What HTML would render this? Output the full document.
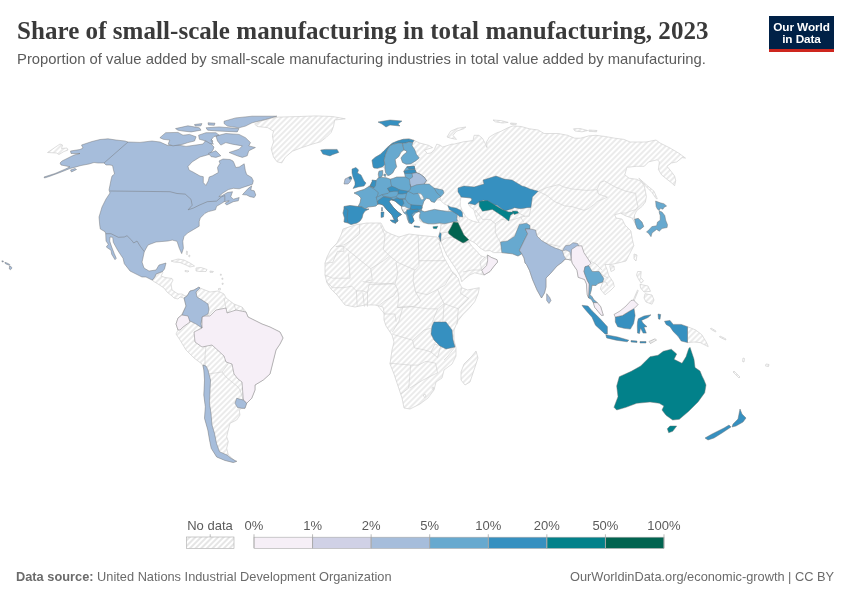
<!DOCTYPE html>
<html><head><meta charset="utf-8"><style>
html,body{margin:0;padding:0;background:#fff;}
body{width:850px;height:600px;position:relative;overflow:hidden;font-family:"Liberation Sans",sans-serif;}
h1,.sub,.foot,.logo,.leg{will-change:transform;}
.map,.leg{position:absolute;left:0;top:0;}
h1{position:absolute;left:16.5px;top:17px;margin:0;font-family:"Liberation Serif",serif;font-weight:bold;font-size:25px;color:#3a3a3a;white-space:nowrap;letter-spacing:0.05px;}
.sub{position:absolute;left:16.5px;top:51px;margin:0;font-size:14.8px;letter-spacing:0.02px;color:#5b5b5b;white-space:nowrap;}
.logo{position:absolute;left:769px;top:16px;width:65px;height:36px;background:#002147;}
.logo .bar{position:absolute;left:0;bottom:0;width:65px;height:3px;background:#ce261e;}
.logo .t{position:absolute;left:0;top:5px;width:65px;text-align:center;color:#fff;font-weight:bold;font-size:11.8px;line-height:12px;letter-spacing:-0.1px;}
.foot{position:absolute;top:569px;font-size:12.8px;color:#6b6b6b;white-space:nowrap;}
</style></head><body>
<svg class="map" width="850" height="600" viewBox="0 0 850 600">
<defs><pattern id="nd" patternUnits="userSpaceOnUse" width="4" height="4" patternTransform="rotate(-45)"><rect width="4" height="4" fill="#fff"/><path d="M0,2 H4" stroke="#e1e1e1" stroke-width="1.3"/></pattern></defs>
<g fill="url(#nd)" stroke="#cdcdcd" stroke-width="0.65" stroke-linejoin="round"><path d="M47.5,152.5 60,144 62.5,145 61.5,148.5 67,148 68,150 64,151.5 59,154.5 56.5,153Z"/><path d="M254.7,124.1 260.6,121.2 271.2,118.2 278.2,117.1 299.4,116.5 315.9,115.9 332.4,116.5 345.3,118.8 334.7,120 333.5,126.5 331.2,132.4 326.5,137.1 320.6,141.8 312.4,144.1 301.8,147.6 292.4,151.2 285.3,157.1 281.8,162.9 277.1,161.8 273.5,157.1 271.2,148.8 273.5,141.8 272.4,135.9 273.5,131.2 267.6,127.6 257.1,126.5Z"/><path d="M357,223 351,224.5 348,223 344,222 344.5,218 343,213 344,209 344,206.5 350,205.5 358,206.5 360,203 361,198 358,195 354,193 359,191 364,189.5 368,187 370,186 372,182 373,181 376.2,180.6 378.3,177.8 378.3,174.1 379,171.2 382.7,170.5 382.7,174.9 382,177.5 386.1,177.8 390.3,179.2 392.9,178.5 396.7,177.1 403.2,177 405.4,177 404.7,173.4 403.9,171.2 406.9,166.8 414.2,166 416,164.5 410.5,163.9 406.1,164.2 402.5,162.4 401,158 403.2,155.1 406.9,152.1 406.1,150.7 403.9,149.9 401,152.1 398.8,156.5 395.1,159.5 395.9,163.9 396.6,166.8 394.4,169.7 392.9,172.7 390,174.9 387.8,175.6 385.6,172.7 384.9,168.3 382.7,166.8 377.5,168.3 373.9,167.9 373.1,166.8 372,160.2 375.3,157.3 380.5,154.3 384.1,150.7 387.8,147 392.2,143.3 397.3,141.1 403.2,139.3 409,138.9 414.2,140.4 419.7,143 428.5,145.3 432.6,147.6 424.4,150 427.4,153.5 431,153 434.4,149.4 436.8,144.1 440.3,145.3 442.6,147 446.2,145.9 452,144.1 454.1,144.1 463.5,141.8 473,140.6 474.1,135.3 478.8,135.3 482.4,138.2 485,143 487,147.6 486.5,142 489.4,137 495.3,133.5 501.2,131.2 508.2,127.6 513,125.9 521.2,126.5 529.4,128.8 538.2,130 544.1,133.5 558.2,133.5 567.6,135.3 574.7,138.2 580.6,138.2 588.8,135.9 595.9,135.3 605.3,136.5 614.7,138.2 624.1,139.4 630,142 646,142 656,140 660,143 670,148 679,153.3 685.5,158.1 682.2,157.6 676.8,161.9 671.4,163 667,166.3 671.4,171.7 674.6,176 675.7,180.4 674.6,185.8 672.5,183.6 667,179.3 661.6,174.9 658.4,169.5 659.4,161.9 657.3,159.8 652.9,160.8 648.6,161.9 644.3,166.3 636.7,166.3 626.9,167.3 624.8,174.9 629.1,178.2 636.7,179.3 641,181.4 644.3,185.8 645.4,191.2 646.4,196.6 645.4,202 642.1,206.4 636.7,210.7 634.5,215 634.6,219.3 638.2,218.4 641.9,222 643.7,226.6 640,229.4 637.3,228.5 635.5,223.9 632,218 626,216 620.6,213.2 614.7,214.7 616,218 622.1,219.1 625,225 630.9,230.9 632.4,239.7 633.8,245.6 629.4,254.4 626,261 616.7,263.3 610.8,264.5 605,264.5 607.3,270.3 608.5,275 613.2,282 614.3,286.7 610.8,290.2 605,294.8 600.3,289 602.7,282 598,283.5 596,285.5 592,285.3 591.3,290 590,294.7 592,296.7 594,300 596.7,302 597.3,302.7 600.7,306.7 602.7,313.3 603.3,315.3 601.3,315.3 598,311.3 594.7,307.3 593.3,302.7 591.3,299.3 588.7,298 587.3,295 586.7,288 586.5,284 584.5,279.5 581.7,278.5 578.2,277.3 577,270.3 572.3,263.3 570.7,260 566,259 564,260 562.5,262 557,266 550.5,273.5 546,278 546,287 544.5,293 541.5,298 537,290 532.5,279.5 529.5,270.5 526.5,264.5 525,263 524,258 521.8,253.8 518,256 512.4,253.8 501.8,252.6 493.5,252.6 490,250.5 485,251 480,248 475,243 470,240.3 468.8,242 472.4,246.8 477,251.5 480.6,255.6 485.3,257.4 487.6,255 491.2,257.4 497,259.7 497.6,262 493.5,266.8 490,271.5 484,275 474.7,272.8 470,274.8 464,279.5 461.8,281.8 460.1,276 456,269 451.3,262 446.7,255 443.5,248 440.4,240.2 439,240 438.5,237.5 439.5,233 440.5,229 441,225 440.6,223.2 436,224 432,224 424,223 420,221 419,216 420.5,212 418,211.5 415.6,213 413.9,214.7 412.3,217.2 413.9,220.5 411.5,223.8 409,223 407.4,218.8 406.5,214.7 404,213 402,209 401.6,206.5 398,203.5 395,201 391,199.6 389,201.5 393,207 398,212 401.5,214.5 399,216 397,218 398,221 395,223 394,219 392,215 387,210 383,205 380,204 378,204 376,206 373,206.5 368,207 365,209 369,209 365,211 363,214 362,218 360,221Z"/><path d="M343,229 355,225 367,223 381,223 385,231 391,234 399,237 409,234 417,235 427,236 437,237 439,240 440.6,242 439,243 443.2,256.2 447.8,264.3 452.5,272.5 458.3,278.3 459.5,283 461.8,287.7 467.7,290 473.5,288.8 479.3,287.7 478.2,293.5 474.7,301.7 468.8,308.7 463,314.5 458.3,320.3 456,325 454,330 454,340 456,348 456,356 452,364 444,370 442,378 436,382 434,390 428,398 420,404 410,409 404,408 402,398 398,386 394,374 390,364 392,350 394,342 392,335 386,326 384,320 384,312 383,307 375,305 365,305 355,307 345,305 337,295 331,289 327,283 325,275 325,263 327,257 331,249 337,243 341,235Z"/><path d="M476,351 478,358 474,370 470,382 465,385 461,380 461,372 464,364 468,360 472,356Z"/><path d="M187,296 190,291 194,290 199,287 200,288 205,290 210,292 218,291 224,294 226,298 234,304 242,307 246,312 248,317 254,320 262,324 270,327 280,332 283,338 280,344 276,350 274,358 270,374 263.3,380 255,385 255,390 251.7,398.3 246.7,403.3 245,408.3 241.7,408.3 239.2,410 240,415 236.7,420 230,423.3 228.3,430 226.7,436.7 228.3,441.7 226.7,448.3 228.3,455 235,460.8 236.7,461.3 233.3,462.5 225,460 216.7,456.7 211.7,448.3 210,440 208.3,430 205,418.3 205.8,406.7 204.2,395 205,380 204.2,370 202,364 194,358 186,350 180,340 176,334 178,330 176,324 178,318 182,314 186,306 184,298Z"/><path d="M163,272 161,276 165,277.5 172,278.5 173,280 171,284 172,290 178,294 182,294 185,296 187,296 184,298 180,297 178,299 174,298 172,296 167,292 164,288 158,284 153,281 152,280 153,279.5 155,276.5 156,274 162.5,271.5Z"/><path d="M171,261 178,259 184,260 190,263 194.5,266 190,267 186,265 180,262.5 174,262Z"/><path d="M196,268 201,267.5 207,269.5 206,271.5 200,271.5 196,271Z"/><path d="M185,270.5 189,271 188,272 185,271.5Z"/><path d="M210,271 213.5,271.5 213,272.3 210,272.3Z"/><path d="M638.8,178.2 647.5,185.8 654,191.2 657.3,198.8 656,198.5 652,192.5 646.5,187 640,179.5Z"/><path d="M634,254 637,255 636,261 634,259Z"/><path d="M609.7,265.7 614,266 614.3,270 611,271.5Z"/><path d="M637.7,271.5 641.2,271.5 640.6,277.3 643.5,280.8 641.2,283.2 638.8,279.7 636.5,275Z"/><path d="M640,284.3 648,286 650.5,291.3 644,292 640.6,288Z"/><path d="M645,293.7 652,295 654,300 652,304.2 646,302 644,298Z"/><path d="M631,305.5 637.5,290 638.3,290.5 632,306Z"/><path d="M687.5,326.7 695.5,329.9 701.8,334.7 706.6,342.6 708.2,346.6 700.2,342.6 694,342 687.5,342.6Z"/><path d="M734,371 740,377 739,378 733,372Z"/><path d="M743,358 744.5,358.5 744,362 742.5,361.5Z"/><path d="M766,364 769,364.5 768.5,366.5 765.5,366Z"/><path d="M711,328 716,331 715.5,332 710.5,329Z"/><path d="M720,336 726,339 725.5,340 719.5,337Z"/><path d="M447,137 450.6,131.2 457.6,128.2 465.9,127 463.5,128.8 456.5,131.2 452.9,135.3 456.5,139.4 450.6,138.2Z"/><path d="M493,120 501.2,120.6 508.2,122.4 502.4,123 495.3,121.8Z"/><path d="M510.6,123 516.5,123.5 516,124.7 510.6,124.2Z"/><path d="M573.5,128.8 580,128.5 587.6,130.5 582,131.8 575,131Z"/><path d="M588.8,130 597,130.5 596.5,131.8 589,131.3Z"/><path d="M220.5,274 221.5,274.3 221.2,275.5 220.3,275.2Z"/><path d="M222,278 223,278.3 222.8,279.5 221.8,279.2Z"/><path d="M222.3,283 223.3,283.3 223,284.5 222,284.2Z"/><path d="M218.5,288.5 220.5,288.3 220.3,290 218.5,290Z"/><path d="M186.5,251 187.5,251.5 187.2,255 186.3,254Z"/><path d="M189,255 190,255.5 189.5,257 188.7,256.5Z"/></g>
<g fill="none" stroke="#cfcfcf" stroke-width="0.6"><path d="M475,209.8 482.5,219.4 490,219.4 495.3,223.6 501.6,219.4 509,220.4"/><path d="M495.3,223.6 495.3,232.1 497.4,237.4 499.5,240.5 500.5,243.7 501.6,248 503.7,252.2"/><path d="M509,220.4 514.3,219.4 520.7,217.2 524.9,216.2 529.2,216.2 530.9,207.4"/><path d="M518.6,213 524.9,216.2"/><path d="M520.7,217.2 523.9,222.5"/><path d="M457.6,213.9 460,218 458,222.6"/><path d="M441,225 447.6,222.5"/><path d="M440.6,233 448.2,232"/><path d="M441,241 446,238 453.5,237.4"/><path d="M463,243 468.8,242"/><path d="M463,272 472,270 482,270"/><path d="M481.8,270.3 480,262 485,257"/><path d="M538.2,191.2 547.1,187.5 558.8,184.6 563.2,186.8 572.1,189 586.8,190.4 597.1,189.7 598.5,194.1 607.4,197.1 604.4,198.5 597.1,201.5 594.1,204.4 588.2,208.8 583.8,210.3 572.1,206.6 564.7,205.9 554.4,201.5 547.1,195.6 538.2,191.2"/><path d="M597.1,189.7 600,182.4 604.4,180.9 615,186.9 625.8,191.2 635.6,193.4 636.7,201 638,206.4 636,209.5"/><path d="M620.6,213.2 626,213 631,211 636,209.5"/><path d="M541.2,241.2 548.5,244 560.3,246.5"/><path d="M591,261.5 596,264 602,270"/><path d="M598.5,272 604,276 608,278"/><path d="M601.5,281.7 606,282 608,286"/><path d="M359.6,224.3 359.6,233.8 351.7,240.2 343.8,244.9 335.8,246.5"/><path d="M335.8,246.5 343.8,246.5 343.8,251.3 337.4,251.3 332.7,262.4 324.8,263.2"/><path d="M345.4,248.1 370.7,268.7 383.4,260.8 389.7,256"/><path d="M348.5,254.4 350.1,278.2 332.7,278.2 324.8,275"/><path d="M380.2,224.3 385,235.4 383.4,249.7 389.7,256 397.7,262.4"/><path d="M370.7,268.7 372.3,279.8 366,281.4"/><path d="M326.3,281.4 332.7,287.7 343.8,287.7 351.7,286.1 356.4,290.9 362.8,290.9 367.5,292.5 369.1,284.6 383.4,284.6 394.5,283"/><path d="M356.4,290.9 357.2,306.7"/><path d="M362.8,292.5 364.4,306.7"/><path d="M367.5,292.5 367.5,306.7"/><path d="M418.2,235.4 419,265.5"/><path d="M419,260.7 445.1,260.7"/><path d="M397.7,262.4 415,270 419,265.5"/><path d="M453,271.8 457,276"/><path d="M455,347 448,356 444,360"/><path d="M224,298 226,308"/><path d="M234,304 236,311"/><path d="M242,307 244,312"/><path d="M393.4,334.5 412.6,340.2 414.5,347.9 424,349.8 431,352 437.5,357.5"/><path d="M389.6,363.2 410.7,365.1 418.3,365.1 426,361.3 435.6,363.2 437.5,372.8 429.8,376.6 422.1,380.5 409.7,388.1"/><path d="M410.7,365.1 409.7,376.6 408.7,388.1 401,393.9"/><path d="M437.5,357.5 441.3,344"/><path d="M431,352 435,344 440,346"/><path d="M423.3,395 425,394 426,396.5 424.5,397.5 423.3,395"/><path d="M432,387.5 433.5,387 433.8,389 432.3,389.3 432,387.5"/><path d="M206,346 205,356 205,366 208,374"/><path d="M208,374 215,373 222,372 228,364"/><path d="M222,372 226,377 232,382 238,387 240,390 243.3,400"/><path d="M362.6,281.6 372.9,282.9 384,283.5 395,284.2 397.5,289.4 393.6,295.9 384.6,301 378.1,306.2"/><path d="M397.5,289.4 398.8,297.2 397.5,307.5 405.3,307.5 414.3,306.2 420.8,301 415.6,292 413,280.3 414.3,270"/><path d="M397.5,307.5 406.6,306.2 418.2,307.5 427.3,308.8 437.6,308.8"/><path d="M415.6,292 420.8,293.3 427.3,294.6 437.6,289.4 440.2,295.9 444.1,303.6 437.6,308.8"/><path d="M437.6,308.8 432.4,321.7"/><path d="M444.1,303.6 442.8,321.7"/><path d="M444.1,303.6 458.3,308.8 457,324.3"/><path d="M437.6,289.4 445,285 453,271.8"/><path d="M461.5,288 460.5,293.3 468.7,298.5 458.3,308.8"/><path d="M384.6,314 394.9,314 396.2,321.7"/><path d="M402.7,307.5 398.8,321.7 392.3,332.1"/><path d="M378.1,306.2 384.6,314"/><path d="M396,262.3 397.7,273.4 395,284.2"/><path d="M431.2,328.2 424,330 412.6,340.2"/></g>
<g fill="#fff" stroke="#cfcfcf" stroke-width="0.6"><path d="M422.2,206.5 423.8,201.5 426.3,198.2 429.6,199 431.2,201.5 434.5,202.4 437,199.5 440,200 444.4,204 447.7,205.6 449.4,208.1 447.7,211.4 441.1,210.6 434.5,209.4 429.6,210.6 424.7,211.8 421.4,210.6 421.4,207.7Z"/><path d="M435,197 438,196.6 441,199 438,200 436,199.5Z"/><path d="M461,197 471,198 472,200 468,203.5 470,206.7 474,209.8 475,214 477,219.4 479.4,222.5 474,221.5 468.8,219.4 465.6,216.2 462.4,210.9 460.3,205.6 460.3,201.4Z"/></g>
<g stroke="#6f6f6f" stroke-width="0.45" stroke-linejoin="round"><path fill="#a6bddb" d="M44,177 55,173.5 65,169.2 70,166.8 61,165 60,163 62,161 68,158 74,155 80,153.5 71,153.5 70.5,151 80,149.5 83,148 81.5,145 92,141.5 100,139.5 108,138.8 116,140 125,141 128,142 140,142.4 152,141 160,142 168,145.6 178,145 186,146.4 196,145 203,144 206,140 210,138 213,141 211,144 214,147 213,150 209,154.5 200,157 192,162 188,166.5 189,170 193,172 200,176 203.3,176.7 203.3,182.5 205.8,185.4 208.3,180.8 209.2,177 212.5,175.8 218.3,172.5 217.5,167.5 220,163.3 219,161 223,159 230,159.5 233,161 234.2,163.3 235.8,167.5 239.2,167 244.2,163.8 245.4,170.8 246.7,174.6 251.7,177.5 253.3,180.8 252.5,184.2 249.2,185.4 245,186.7 239.2,188.8 233.3,188.3 228.3,189.6 222.5,193.3 218.8,196.7 221.7,195.8 227.5,192.5 232.5,191.7 230.8,196.7 233.3,199.2 239.2,197.5 238.3,200.8 233.3,201.7 226.7,205 225,203.3 229.2,200.8 224.2,201.7 221.7,203.3 216.6,206.3 215.5,209.8 208.5,211.6 205,213.3 200.3,218 199.2,221.5 199.2,226.2 193.3,229.7 187.5,233.1 184,236.6 182.8,241.3 183.4,248.3 181.7,253.6 179.3,248.3 177,241.3 172.3,240.1 168,241 156,242 148,245 144.3,251.7 142.3,261 142,262 144,268 149,271 156,270 159,265 166,263 164.5,269 162.5,271.5 156,274 155,276.5 153,279.5 152,280 146,277 142,277 130,271 124.3,263.7 123,258.3 120.3,254.3 117.7,250.3 113.3,242.3 112.7,237.3 110,237 109.7,241 111.7,247 114.3,253.7 116.3,258.3 115,259.7 111.7,254.3 111,250.3 106.3,247 108.3,244.3 106,241 105.7,233.7 105,231.7 100.3,229 99.7,225 99,217 102,207 106,199 110,193 109,190 110,185 111,180 112,176 114.5,174 113.5,170 112.5,165.5 110,165 106,165 104,163 98,163 94,162.5 89,164 81,165.5 75,167.2 70,168.5 60,172.5 50,176.2 44.5,178Z"/><path fill="#a6bddb" d="M1.9,260.8 3.4,261 3.2,262 2,261.9Z"/><path fill="#a6bddb" d="M4.9,262.3 7,263 9.8,264.5 9.5,265.3 6.5,264.2 5,263.3Z"/><path fill="#a6bddb" d="M9.5,266 11,266.5 12,268 10.5,269.8 9.3,269Z"/><path fill="#a6bddb" d="M70.5,170 75,168.5 76.5,169.5 71.5,172Z"/><path fill="#a6bddb" d="M242.5,194.6 248.3,188.3 251.7,185.8 250.8,190 254.2,190.8 255.8,195 254.2,197.5 250,196.7 246.7,195Z"/><path fill="#a6bddb" d="M215.9,136 225.8,133.5 239,134.4 245.5,137.7 250.5,142.6 248.8,145.9 255.4,147.5 248.8,150.8 247.2,155.8 242.3,157.4 237.3,155.8 229.1,152.5 239,149.2 242.3,145.9 232.4,144.2 225.8,142.6 220.8,145.1 217.5,141Z"/><path fill="#a6bddb" d="M159.9,137.7 165.7,132.7 178,132.4 183,135.2 189.5,134.4 196.1,136.8 194.5,141 187.9,142.6 183,144.2 173,145.9 168.1,144.2 169.8,140.1 163.2,139.3Z"/><path fill="#a6bddb" d="M198.6,135.2 206,132.7 215.9,132.7 219.2,135.2 214,136.5 211,140.1 213.4,144.2 210,143.5 206,141 199.4,139.3Z"/><path fill="#a6bddb" d="M175.5,128.6 187.9,125.8 199.4,127.8 201,130.2 191.2,131.9 183,131.1 178,130.2Z"/><path fill="#a6bddb" d="M194.5,124.5 201.9,123.6 201,125.8 195.3,126.1Z"/><path fill="#a6bddb" d="M208,122.8 215,123.2 214.3,125.3 208.5,125Z"/><path fill="#a6bddb" d="M224.1,121.2 235.7,117.9 252.1,116.2 276.9,116.2 265.3,119.5 252.1,122.8 245.5,126.1 239,127.8 227.4,126.1 224.1,123.6Z"/><path fill="#a6bddb" d="M206,127.8 219.2,126.9 239,128.6 237.3,131.9 219.2,131.1 207.7,130.2Z"/><path fill="#a6bddb" d="M208.5,153.3 215.9,150.8 220.8,155.8 215.9,157.4 211,156.6Z"/><path fill="#3690c0" d="M320.6,150 325.3,149.4 337.1,149.4 338.8,152.4 332.4,154.7 330,155.9 322.9,154.1Z"/><path fill="#3690c0" d="M378,122 390,120 402,121 398,124 400,126 390,125 386,127 382,124Z"/><path fill="#3690c0" d="M352,169 356,167.5 358.5,170 357.5,173 361,175 364,181 366,183 364,186 358,187 353,188.5 355,185 355,182 353,177 352,173Z"/><path fill="#a6bddb" d="M344,184 345,179 349,177 351,176.5 351.5,179 350,182 348,184Z"/><path fill="#3690c0" d="M348.8,177.3 351,176.5 351.8,178.8 349.5,179.3Z"/><path fill="#3690c0" d="M373.1,166.8 372,160.2 375.3,157.3 380.5,154.3 384.1,150.7 387.8,147 392.2,143.3 397.3,141.1 403.2,139.3 409,138.9 414.2,140.4 412.7,142.6 409,141.9 406.1,143 402.5,143.3 398.8,143 393.7,144.1 390,145.5 387.8,149.2 385.6,154.3 384.1,160.2 384.9,164.6 382.7,166.8 377.5,168.3 373.9,167.9Z"/><path fill="#67a9cf" d="M402.5,143.3 403.9,149.9 401,152.1 398.8,156.5 395.1,159.5 395.9,163.9 396.6,166.8 394.4,169.7 392.9,172.7 390,174.9 387.8,175.6 385.6,172.7 384.9,168.3 384.9,164.6 384.1,160.2 385.6,154.3 387.8,149.2 390,145.5 393.7,144.1 398.8,143Z"/><path fill="#67a9cf" d="M402.5,143.3 406.1,143 409,141.9 412.7,142.6 412,145.5 414.9,150 416.4,154.3 419.3,158 415.7,160.9 410.5,163.9 406.1,164.2 402.5,162.4 401,158 403.2,155.1 406.9,152.1 406.1,150.7 403.9,149.9Z"/><path fill="#67a9cf" d="M354,193 359,191 364,189.5 368,187 370,186 372,182 373,181 376.2,180.6 378.3,177.8 379,177.8 381.2,177 382,177.5 386.1,177.8 390.3,179.2 392.9,178.5 396.7,177.1 403.2,177 405.4,177 404.7,173.4 403.9,171.2 406.9,166.8 414.2,166 414.9,169 416.4,172.7 420,174 424,177 426.5,180.5 424,184 429,184 434,188 443,190 444,193 441,196.6 437,199 434.5,202.4 431.2,201.5 429.6,199 426.3,198.2 423.8,201.5 422.2,206.5 421.4,210.6 419,211.5 415.6,213 413.9,214.7 412.3,217.2 413.9,220.5 411.5,223.8 409,223 407.4,218.8 406.5,214.7 404,213 402,209 401.6,206.5 398,203.5 395,201 391,199.6 389,201.5 393,207 398,212 401.5,214.5 399,216 397,218 398,221 395,223 394,219 392,215 387,210 383,205 380,204 378,204 376,206 373,206.5 368,207 365,209 362,207 358,206.5 360,203 361,198 358,195Z"/><path fill="#67a9cf" d="M379,171.2 382.7,170.5 382.7,174.9 381.2,177 379,177.8 378.3,174.1Z"/><path fill="#67a9cf" d="M384,174 386,174.5 385.5,176.5 383.8,176Z"/><path fill="#3690c0" d="M372,179.9 376.2,180.6 375.5,185.5 374.1,187.6 371,186.5 370,186 372,182Z"/><path fill="#3690c0" d="M387.5,188.3 391.8,186.2 395.3,187.6 399.5,189.8 398.1,191.2 393.9,191.2 389.6,191.9Z"/><path fill="#3690c0" d="M398.1,191.2 399.5,189.8 408,191.2 406.6,193.3 402.3,194 398.1,194Z"/><path fill="#3690c0" d="M391,199.6 393.2,199.6 396.7,198.2 399.5,198.9 402.4,199 404,203.2 401.6,206.5 398,203.5 395,201Z"/><path fill="#3690c0" d="M377.6,201 383.3,196.8 391,198.2 393.2,199.6 391,199.6 389,201.5 393,207 398,212 401.5,214.5 399,216 397,218 398,221 395,223 394,219 392,215 387,210 383,205 380,204 378,204Z"/><path fill="#3690c0" d="M406.9,166.8 414.2,166 414.9,169 409,169Z"/><path fill="#3690c0" d="M403.9,171.2 409,169.7 414.9,169.7 416.4,172.7 412,173.4 404.7,173.4Z"/><path fill="#3690c0" d="M410.8,204.8 421.5,205.6 422.3,208.1 419.8,209.7 413.2,209.7 410,208.9 410.8,206.4Z"/><path fill="#3690c0" d="M406.6,209.7 410,208.9 413.2,209.7 417.4,208.9 419,211.4 414,212.2 411.6,214.7 413.2,218 414,221.2 411.6,223.7 409.1,221.2 408.3,216.3 406.6,213Z"/><path fill="#3690c0" d="M414,225.8 419.7,226.5 419.5,227.5 414,227Z"/><path fill="#a6bddb" d="M409.4,179.2 412.7,177 412,173.4 416.4,172.7 420,174 424,177 426.5,180.5 424,184 416.5,184.8 410.8,187 410.1,184.1Z"/><path fill="#3690c0" d="M357,223 351,224.5 348,223 344,222 344.5,218 343,213 344,209 344,206.5 350,205.5 358,206.5 362,207 365,209 369,209 365,211 363,214 362,218 360,221Z"/><path fill="#3690c0" d="M390,220 396,220 395.5,223.5 392,222Z"/><path fill="#3690c0" d="M381,212 384,212 383.5,217 381,217.5Z"/><path fill="#67a9cf" d="M381.5,207.5 382.5,207.5 382.5,211 381.5,211Z"/><path fill="#67a9cf" d="M418.9,211.4 421.4,210.6 424.7,211.8 429.6,210.6 434.5,209.4 441.1,210.6 447.7,211.4 452.7,211.4 457.6,213.9 456.8,218.8 457.6,221.3 452.7,222.1 444.4,223.8 439.5,223 433.7,223.8 428,223.8 423,222.1 419.7,218 419.7,214.7 420.5,213Z"/><path fill="#3690c0" d="M447.8,205.6 451.1,207.2 456,208.1 461,210.5 462.3,212.5 462.7,217.1 459.5,216.5 457.6,214.5 455,213 452.7,211.4 449.5,209.7Z"/><path fill="#3690c0" d="M458,188 464,186 474,187 484,184 483,180 496,176 504,179 512,180 522,186 525,186.8 530,189 538.2,191.2 532.4,197.1 530.9,207.4 527,207.7 520.7,208.8 514.3,207.7 512.2,208.8 504.8,210.9 501.6,208.8 497.4,205.6 488.9,203.5 483.6,200.3 478.3,202.4 475,205 472,204 468,203.5 472,200 471,198 461,197 460,195 458,192Z"/><path fill="#02818a" d="M479.2,201.3 487.4,200.5 495.7,205.4 502.3,209.5 508.8,212 515.4,212 510.5,215.3 508.8,221 502.3,216.1 492.4,209.5 482.5,211.2 479.2,206.2Z"/><path fill="#02818a" d="M512.2,210.9 517.5,211.2 518.6,213 514.3,214.6Z"/><path fill="#016450" d="M453.5,222 458,222.6 460.6,228 464,235 468.8,239.7 465.3,242 463,243 459.4,240.9 453.5,237.4 448.8,233.8 448.2,232 451.2,226.8Z"/><path fill="#3690c0" d="M438.8,236.2 440,232.6 441.2,233.8 440.6,241.5Z"/><path fill="#02818a" d="M432.9,226.8 437.8,226.2 436.5,228.7 433.5,228.5Z"/><path fill="#67a9cf" d="M500.6,242 507.6,240.9 514.7,236.2 517,230.3 519.4,224.4 526.5,223.2 530,225.6 530,229 525.3,229 527.6,233.8 524,240.9 519.4,250.3 521.8,253.8 518,256 512.4,253.8 501.8,252.6Z"/><path fill="#a6bddb" d="M530,229 535.5,230 537,236 541.5,240.5 549,245 555,248 559.5,249.5 562.5,251 564,248 565.5,245.7 570,245 573,242.7 577.5,243.5 580,248 576,251 573,255.5 570.7,260 566,259 564,260 562.5,262 557,266 550.5,273.5 546,278 546,287 544.5,293 541.5,298 537,290 532.5,279.5 529.5,270.5 526.5,264.5 525,263 524,258 521.8,253.8 519.4,250.3 524,240.9 527.6,233.8 525.3,229Z"/><path fill="#a6bddb" d="M546.7,293.7 549.7,297.5 551,300.5 549,303.5 546.7,300.5Z"/><path fill="#f6eff7" d="M571.5,249.5 577,245.8 581.7,245.8 584,252.8 591,263.3 588.7,265.7 585,266.8 584,271.5 585.2,275 587.5,280.8 589.3,284 589,292 588.7,298 587.3,295 586.7,288 586.5,284 584.5,279.5 581.7,278.5 578.2,277.3 577,270.3 572.3,263.3 571.2,258.7Z"/><path fill="#67a9cf" d="M585,266.8 588.7,265.7 592.2,271.5 599.2,271.5 603.8,278.5 602.7,282 598,283.5 596,285.5 592,285.3 591.3,290 590,294.7 592,296.7 594,300 596.7,302 597.3,302.7 593.3,302.7 591.3,299.3 588.7,298 589,292 589.3,284 587.5,280.8 585.2,275 584,271.5Z"/><path fill="#f6eff7" d="M593.3,302.7 597.3,302.7 600.7,306.7 602.7,313.3 603.3,315.3 601.3,315.3 598,311.3 594.7,307.3Z"/><path fill="#f6eff7" d="M487.6,255 491.2,257.4 497,259.7 497.6,262 493.5,266.8 490,271.5 484,275 481.8,270.3 486.5,265.6 487.6,260.9Z"/><path fill="#67a9cf" d="M634.6,219.3 638.2,218.4 641.9,222 643.7,226.6 640,229.4 637.3,228.5 635.5,223.9Z"/><path fill="#67a9cf" d="M655.6,201 660.2,202.8 663.9,203.7 666.6,206 663.9,207.4 663,209.2 660.2,208.3 659.3,210.6 657.5,209.2 656.1,206.5Z"/><path fill="#67a9cf" d="M659.3,211 662,212 664.8,215.6 665.7,220.2 667.5,224.8 667.1,227.5 662,228.5 659.3,231.2 656.6,229.4 652,233 651,236.7 648.3,233 646.5,232.1 649.2,229.4 652,226.6 656.6,225.7 657.5,222 660.2,220.2 660.2,215.6 659.3,212.9Z"/><path fill="#3690c0" d="M582,305.3 588,306 592,310.7 596.7,315.3 601.3,320 607.4,326.7 607.4,333.9 605,333.9 595.5,325.2 592,317.3 587.3,312 583.3,307.3Z"/><path fill="#3690c0" d="M605.8,334.7 617.7,337 628.8,340.2 627.2,341.8 616.1,340.2 606.6,337.9Z"/><path fill="#3690c0" d="M615.3,317 622.4,315.5 628.8,311.5 634,308.5 635.1,315.6 633.6,323.6 630.4,329.1 624,328.3 617.7,326.7 615.3,322Z"/><path fill="#f6eff7" d="M614,314.5 620,311 626,306 631,300.5 633.5,300 638,304.5 637.5,305.3 634,308.5 628.8,311.5 622.4,315.5 615.3,317Z"/><path fill="#3690c0" d="M638.3,318.8 644,316 651,314.8 648,317.5 641.5,320.4 643,323 647,326.7 644,327 646.3,333.1 643.1,333.1 640.5,328 639.5,333.5 637.5,333 637.3,326 637.5,322Z"/><path fill="#3690c0" d="M664.5,321.2 670,320.4 673.2,324.4 681.2,324.4 687.5,326.7 687.5,342.6 681.2,341 678,336.3 673.2,331.5 670,326.7 666.1,324.4Z"/><path fill="#3690c0" d="M631,340.5 637,341 637,342.5 631,342Z"/><path fill="#3690c0" d="M640,341.5 646,341.5 646,343 640,343Z"/><path fill="#3690c0" d="M658,314 660.7,314.5 660,319.3 658.5,319Z"/><path fill="#02818a" d="M690,347.3 694,359.3 695,367.5 700,371 702,376 704,380 706,385 704.7,392.7 698,402 688.7,411.3 679.3,419.3 672.7,420 666,415.3 662,410 663.9,406 659.3,403.3 650,402 636.7,403.3 626,407.3 616.7,410 614,407.3 618,396.7 616.7,386 619.3,376.7 631.3,371.3 640.7,366 650,356.7 658,355.3 663.3,351.3 671.3,349.2 676.7,354 674,359.3 682,363.3 686,356.7 688.7,348.7Z"/><path fill="#02818a" d="M667.3,428.7 670,426 676.7,426 672.7,431.3 668.7,432.7Z"/><path fill="#3690c0" d="M740,409 742,414 746,418 743,422 736,426 732,427 733,424 738,419Z"/><path fill="#3690c0" d="M729,425 731,427 722,433 714,438 708,440 705,438 712,434 724,428Z"/><path fill="#3690c0" d="M434,322 446,322 452,330 453,340 455,347 446,349 440,346 434,340 431,334 432,326Z"/><path fill="#f6eff7" d="M202,316 210,316 216,310 226,308 227,313 236,310 246,312 248,317 254,320 262,324 270,327 280,332 283,338 280,344 276,350 274,358 270,374 263.3,380 255,385 255,390 251.7,398.3 246.7,403.3 243.3,400 242,382 238,379 234,374 232,364 226,362 224,356 212,345 202,347 195,342 194,332 202,328Z"/><path fill="#a6bddb" d="M187,296 190,291 194,290 199,287 200,288 196,292 197,297 202,300 208,304 209,310 208,314 202,317 201,324 202,328 196,324 190,321 182,315 186,306 184,298Z"/><path fill="#f6eff7" d="M182,315 188,316 190,322 183,327 180,330 178,330 176,324 178,318Z"/><path fill="#a6bddb" d="M203,365 206,366 208,370 210.5,380 210,391.7 209.5,403.3 211,413.3 212,425 214.5,433.3 216.5,443.3 219.5,451.7 227,455 231,458.3 235.5,460.8 236.7,461.3 233.3,462.5 225,460.5 216.7,457 211.2,448.3 209.5,440 207.8,430 204.5,418.3 205.3,406.7 203.8,395 204.5,380 203.8,370Z"/><path fill="#a6bddb" d="M245,408.3 246.7,403.3 243.3,400 236.7,398.3 235,403.3 237.5,407.5 241.7,408.3Z"/></g>
<g fill="url(#nd)" stroke="#8a8a8a" stroke-width="0.45" stroke-linejoin="round"><path d="M401.6,206.5 404.9,206.5 407.4,208 410,208.9 406.6,209.7 406.6,211 404,212.5 402,209Z"/><path d="M418,193.3 421,193.8 423,196.5 423.8,198.6 422,199.9 420.5,198.5 419.5,196Z"/><path d="M562.5,251 566,250 570,252 571,258 570.7,260 566,259 564,256Z"/><path d="M649,341.5 655,338.8 656.5,340 650.5,343.5Z"/></g>
<g fill="none" stroke="#6f6f6f" stroke-width="0.45"><path d="M104,163 128,142"/><path d="M110,191 170,191.7 177,193.5 185.2,194.1 191,199.3 192.2,205.2 188.1,209.8 193.3,208.1 199.2,205.2 207.3,201.7 216.6,201.1 221.3,197 224.8,195.5 224.8,200.5 224.2,201.7"/><path d="M105.7,233.7 111,233.7 118.3,237.3 124.3,237 127,235.7 131.7,240.3 133.7,243 137,241 140.3,246.3 144.3,251.7"/><path d="M348,223 347,218 348,210 345,208"/><path d="M368.5,186.2 374,189 378.3,192.6 377.6,195.4 376.2,197.5 377,200.3 377.6,204.6"/><path d="M370,186 374.1,187.6"/><path d="M390.3,179.2 391,184.1 391.8,186.2"/><path d="M387.5,188.3 389.6,191.9 388.2,193.3 381.9,194.7 376.2,197.5"/><path d="M381.9,194.7 383.3,196.1 391,197.5 396,196.8 398.1,194"/><path d="M396,196.8 399.5,198.9 405.2,198.9 406.6,193.3"/><path d="M405.2,198.9 408.2,203.2 411.5,204.8"/><path d="M408,191.2 409.4,191.9 413.6,194 418,193.3"/><path d="M405.4,177 409.4,179.2"/><path d="M410.1,184.1 410.8,187 410.1,189.8 408,191.2"/><path d="M402.4,199 405.2,198.9"/><path d="M434,188 437,193 441,196.6"/></g>
</svg>
<svg class="leg" width="850" height="600" viewBox="0 0 850 600">
<defs><pattern id="nd2" patternUnits="userSpaceOnUse" width="4" height="4" patternTransform="rotate(-45)"><rect width="4" height="4" fill="#fff"/><path d="M0,2 H4" stroke="#d8d8d8" stroke-width="1.3"/></pattern></defs>
<g font-family="Liberation Sans, sans-serif" font-size="13" fill="#5b5b5b"><rect x="254.00" y="537.2" width="58.57" height="11.2" fill="#f6eff7" stroke="#aaa" stroke-width="0.6"/><rect x="312.57" y="537.2" width="58.57" height="11.2" fill="#d0d1e6" stroke="#aaa" stroke-width="0.6"/><rect x="371.14" y="537.2" width="58.57" height="11.2" fill="#a6bddb" stroke="#aaa" stroke-width="0.6"/><rect x="429.71" y="537.2" width="58.57" height="11.2" fill="#67a9cf" stroke="#aaa" stroke-width="0.6"/><rect x="488.28" y="537.2" width="58.57" height="11.2" fill="#3690c0" stroke="#aaa" stroke-width="0.6"/><rect x="546.85" y="537.2" width="58.57" height="11.2" fill="#02818a" stroke="#aaa" stroke-width="0.6"/><rect x="605.42" y="537.2" width="58.57" height="11.2" fill="#016450" stroke="#aaa" stroke-width="0.6"/><line x1="254.00" y1="534.3" x2="254.00" y2="548" stroke="#aaa" stroke-width="0.8"/><text x="254.00" y="530" text-anchor="middle">0%</text><line x1="312.57" y1="534.3" x2="312.57" y2="548" stroke="#aaa" stroke-width="0.8"/><text x="312.57" y="530" text-anchor="middle">1%</text><line x1="371.14" y1="534.3" x2="371.14" y2="548" stroke="#aaa" stroke-width="0.8"/><text x="371.14" y="530" text-anchor="middle">2%</text><line x1="429.71" y1="534.3" x2="429.71" y2="548" stroke="#aaa" stroke-width="0.8"/><text x="429.71" y="530" text-anchor="middle">5%</text><line x1="488.28" y1="534.3" x2="488.28" y2="548" stroke="#aaa" stroke-width="0.8"/><text x="488.28" y="530" text-anchor="middle">10%</text><line x1="546.85" y1="534.3" x2="546.85" y2="548" stroke="#aaa" stroke-width="0.8"/><text x="546.85" y="530" text-anchor="middle">20%</text><line x1="605.42" y1="534.3" x2="605.42" y2="548" stroke="#aaa" stroke-width="0.8"/><text x="605.42" y="530" text-anchor="middle">50%</text><line x1="663.99" y1="534.3" x2="663.99" y2="548" stroke="#aaa" stroke-width="0.8"/><text x="663.99" y="530" text-anchor="middle">100%</text><rect x="186.5" y="537" width="47.5" height="11.3" fill="url(#nd2)" stroke="#aaa" stroke-width="0.6"/><line x1="210.2" y1="534.3" x2="210.2" y2="537" stroke="#aaa" stroke-width="0.8"/><text x="210" y="530" text-anchor="middle">No data</text></g></svg>
<h1 id="title">Share of small-scale manufacturing in total manufacturing, 2023</h1>
<div class="sub" id="sub">Proportion of value added by small-scale manufacturing industries in total value added by manufacturing.</div>
<div class="logo"><div class="t">Our World<br>in Data</div><div class="bar"></div></div>
<div class="foot" id="f1" style="left:16px"><b>Data source:</b> United Nations Industrial Development Organization</div>
<div class="foot" id="f2" style="right:16px">OurWorldinData.org/economic-growth | CC BY</div>
</body></html>
